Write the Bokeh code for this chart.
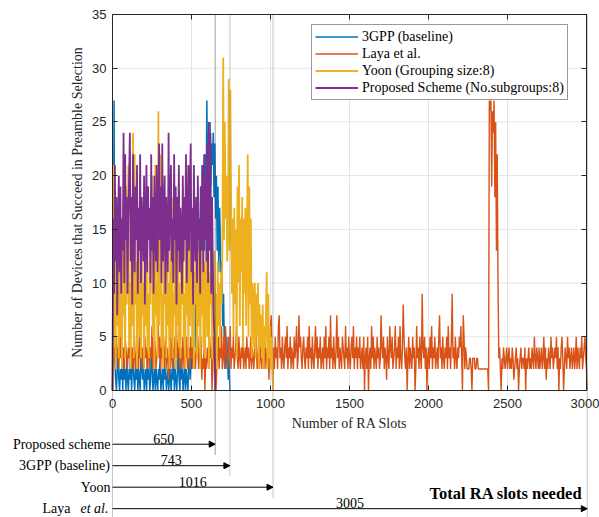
import numpy as np
from math import pi
from bokeh.plotting import figure
from bokeh.models import (Range1d, LinearAxis, FixedTicker, ColumnDataSource, Legend,
                          LegendItem, Label, Arrow, NormalHead)
from bokeh.core.properties import value
from bokeh.embed import file_html
from bokeh.resources import INLINE

# ---------------- data ----------------
series_names = ["3GPP (baseline)", "Laya et al.", "Yoon (Grouping size:8)",
                "Proposed Scheme (No.subgroups:8)"]
series_colors = ["#0072BD", "#D95319", "#EDB120", "#7E2F8E"]
series_last_slot = [743, 3005, 1016, 650]

gpp_vals = [
    0, 5, 27, 3, 1, 0, 2, 4, 1, 0,
    2, 1, 3, 0, 4, 1, 2, 0, 3, 1,
    0, 2, 1, 4, 0, 2, 3, 1, 0, 2,
    1, 3, 0, 2, 1, 0, 4, 2, 1, 3,
    0, 1, 2, 0, 3, 1, 2, 0, 1, 4,
    2, 0, 1, 3, 0, 2, 1, 0, 2, 1,
    3, 0, 1, 2, 0, 4, 1, 2, 0, 1,
    2, 0, 3, 1, 0, 2, 1, 3, 0, 2,
    1, 0, 2, 4, 1, 0, 3, 1, 2, 0,
    1, 3, 0, 2, 1, 0, 2, 4, 1, 3,
    2, 5, 3, 7, 4, 9, 6, 12, 8, 15,
    11, 19, 14, 21, 16, 19, 13, 22, 18, 27,
    17, 24, 20, 25, 19, 23, 21, 24, 18, 23,
    16, 20, 13, 19, 11, 17, 14, 10, 12, 6,
    9, 4, 6, 2, 5, 3, 1, 3, 0,
]

laya_vals = [
    0, 4, 6, 3, 2, 5, 3, 4, 2, 6, 3, 5, 2, 4, 3, 2, 5, 4, 3, 2,
    4, 3, 5, 2, 3, 4, 2, 5, 3, 2, 4, 6, 3, 2, 5, 3, 6, 2, 4, 3,
    2, 5, 3, 4, 2, 3, 5, 2, 4, 3, 6, 2, 3, 5, 4, 2, 3, 4, 6, 3,
    5, 2, 4, 3, 6, 2, 3, 5, 2, 4, 3, 1, 4, 2, 5, 3, 2, 4, 3, 5,
    2, 6, 3, 4, 5, 2, 3, 4, 2, 5, 3, 2, 4, 3, 5, 2, 4, 3, 2, 5,
    3, 4, 2, 5, 3, 2, 4, 3, 5, 2, 3, 4, 5, 1, 3, 2, 4, 0, 3, 2,
    4, 3, 2, 5, 3, 4, 0, 2, 5, 3, 4, 0, 2, 3, 5, 2, 4, 3, 6, 2,
    3, 5, 2, 6, 4, 3, 2, 5, 3, 6, 2, 4, 3, 5, 2, 3, 4, 6, 3, 2,
    5, 3, 2, 4, 3, 5, 2, 3, 4, 2, 5, 3, 4, 2, 3, 5, 2, 4, 3, 2,
    4, 3, 5, 2, 3, 4, 2, 5, 3, 2, 4, 3, 5, 2, 4, 3, 2, 5, 1, 3,
    6, 7, 3, 0, 4, 2, 5, 3, 4, 2, 6, 7, 3, 4, 2, 5, 3, 2, 4, 5,
    3, 6, 2, 4, 3, 5, 2, 4, 3, 2, 5, 3, 4, 6, 2, 3, 7, 4, 5, 3,
    2, 4, 5, 3, 2, 4, 3, 5, 2, 6, 3, 4, 2, 5, 3, 2, 4, 6, 3, 5,
    2, 4, 3, 5, 2, 3, 4, 2, 5, 3, 6, 2, 4, 3, 5, 2, 7, 3, 4, 2,
    5, 3, 2, 4, 7, 3, 5, 2, 4, 3, 2, 5, 4, 3, 2, 6, 3, 4, 2, 5,
    3, 2, 4, 5, 3, 6, 2, 4, 3, 5, 2, 4, 3, 5, 2, 3, 4, 2, 5, 0,
    3, 4, 2, 5, 0, 3, 4, 2, 6, 3, 5, 2, 4, 3, 2, 5, 3, 4, 2, 3,
    7, 4, 3, 5, 2, 4, 3, 1, 5, 3, 2, 6, 4, 3, 5, 2, 3, 4, 6, 2,
    4, 3, 5, 2, 6, 3, 2, 4, 8, 5, 3, 2, 4, 0, 3, 5, 2, 4, 3, 2,
    5, 3, 4, 0, 2, 6, 3, 4, 2, 5, 3, 2, 9, 4, 3, 5, 2, 4, 0, 3,
    4, 2, 5, 3, 6, 2, 4, 3, 5, 2, 3, 4, 2, 5, 7, 3, 4, 2, 5, 3,
    2, 4, 3, 5, 2, 6, 3, 4, 2, 5, 9, 3, 4, 2, 5, 3, 2, 4, 3, 5,
    4, 6, 3, 0, 7, 5, 2, 4, 3, 2, 2, 2, 3, 3, 2, 0, 3, 3, 3, 2,
    2, 3, 3, 2, 2, 2, 2, 2, 2, 2, 2, 2, 2, 2, 2, 2, 0, 27, 26, 27,
    19, 26, 24, 27, 18, 25, 13, 22, 10, 3, 4, 2, 0, 3, 2, 4, 3, 2, 3, 4,
    2, 3, 4, 2, 3, 2, 4, 3, 1, 2, 3, 4, 2, 3, 0, 2, 3, 4, 2, 3,
    3, 2, 4, 0, 3, 2, 3, 4, 2, 3, 2, 4, 3, 2, 5, 3, 2, 4, 3, 2,
    4, 2, 3, 4, 2, 3, 5, 2, 4, 1, 3, 2, 4, 3, 2, 5, 3, 4, 2, 3,
    4, 3, 5, 2, 4, 0, 3, 2, 4, 5, 3, 0, 2, 4, 3, 2, 5, 3, 4, 2,
    3, 4, 2, 3, 4, 2, 3, 5, 2, 4, 3, 2, 4, 3, 5, 2, 3, 4, 5, 3,
    2, 0,
]

yoon_vals = [
    0, 21, 4, 12, 2, 17, 6, 10, 3, 14,
    5, 9, 2, 16, 7, 11, 3, 19, 8, 13,
    21, 4, 10, 2, 15, 6, 24, 3, 22, 8,
    12, 2, 9, 17, 5, 11, 3, 14, 7, 10,
    2, 13, 6, 18, 4, 9, 3, 12, 8, 16,
    20, 5, 11, 2, 21, 7, 10, 3, 26, 6,
    12, 22, 4, 9, 2, 15, 8, 11, 3, 17,
    6, 10, 2, 13, 5, 18, 3, 9, 7, 14,
    2, 11, 6, 16, 4, 10, 3, 13, 8, 19,
    5, 9, 2, 14, 7, 12, 3, 17, 6, 21,
    10, 4, 15, 2, 11, 8, 18, 3, 13, 6,
    16, 2, 10, 7, 20, 4, 12, 3, 9, 14,
    5, 17, 2, 11, 8, 15, 3, 10, 6, 13,
    3, 9, 2, 12, 6, 10, 4, 11, 8, 13,
    31, 14, 25, 16, 20, 12, 15, 29, 13, 28,
    18, 9, 16, 5, 17, 8, 15, 3, 19, 10,
    21, 6, 16, 11, 18, 4, 16, 9, 17, 6,
    14, 22, 5, 19, 8, 16, 3, 10, 9, 4,
    10, 3, 9, 5, 10, 2, 8, 4, 7, 3,
    8, 2, 6, 4, 7, 11, 2, 9, 3, 6,
    2, 5, 3, 0,
]

prop_vals = [
    0, 16, 9, 21, 12, 18, 7, 15, 20, 11,
    19, 9, 16, 13, 24, 10, 22, 14, 18, 9,
    16, 20, 24, 12, 18, 8, 22, 15, 11, 19,
    14, 21, 9, 17, 13, 22, 10, 18, 15, 12,
    20, 8, 16, 21, 11, 19, 14, 17, 10, 22,
    13, 18, 9, 20, 15, 12, 21, 11, 17, 23,
    14, 19, 10, 23, 12, 16, 20, 9, 18, 14,
    11, 24, 13, 17, 21, 12, 16, 10, 22, 14,
    19, 8, 18, 13, 21, 11, 17, 15, 9, 20,
    12, 18, 14, 22, 10, 16, 21, 13, 19, 23,
    11, 17, 8, 21, 15, 12, 18, 10, 20, 14,
    16, 9, 19, 13, 21, 11, 22, 14, 20, 12,
    23, 10, 25, 13, 24, 9, 18, 12, 7, 5,
    0,
]

x_ticks = [0, 500, 1000, 1500, 2000, 2500, 3000]
y_ticks = [0, 5, 10, 15, 20, 25, 30, 35]

row_labels = ["Proposed scheme", "3GPP (baseline)", "Yoon"]
row_slots = [650, 743, 1016, 3005]
laya_label_main = "Laya"
laya_label_italic = "et al."
total_label = "Total RA slots needed"
x_title = "Number of RA Slots"
y_title = "Number of Devices that Succeed in Preamble Selection"

# ---------------- geometry ----------------
W, H = 599, 517
AX_L, AX_R, AX_T, AX_B = 112, 586, 14, 390
XMAX, YMAX = 3000, 35
sx = (AX_R - AX_L) / XMAX
sy = (AX_B - AX_T) / YMAX


def px2x(px):
    return (px - AX_L) / sx


def px2y(py):
    return (AX_B - py) / sy


x_range = Range1d(px2x(0), px2x(W))
y_range = Range1d(px2y(H), px2y(0))

p = figure(width=W, height=H, x_range=x_range, y_range=y_range,
           output_backend="svg", toolbar_location=None, min_border=0,
           outline_line_color=None, background_fill_color="white",
           border_fill_color="white")
p.grid.visible = False

SANS = "Liberation Sans"
SERIF = "Liberation Serif"
AXC = "#262626"

# grid lines
p.segment(x0=x_ticks[1:-1], y0=[0] * 5, x1=x_ticks[1:-1], y1=[YMAX] * 5,
          line_color="#e4e4e4", line_width=1)
p.segment(x0=[0] * 6, y0=y_ticks[1:-1], x1=[XMAX] * 6, y1=y_ticks[1:-1],
          line_color="#e4e4e4", line_width=1)

# data lines
all_vals = [gpp_vals, laya_vals, yoon_vals, prop_vals]
widths = [1.5, 1.4, 1.8, 1.8]
renderers = []
for vals, col, last, lw in zip(all_vals, series_colors, series_last_slot, widths):
    xs = np.linspace(0, last, len(vals))
    r = p.line(xs, vals, line_color=col, line_width=lw)
    renderers.append(r)

# axes
def style_axis(ax, ticks, show_labels, fixed, bounds):
    ax.ticker = FixedTicker(ticks=ticks)
    ax.fixed_location = fixed
    ax.bounds = bounds
    ax.major_tick_in = 5
    ax.major_tick_out = 0
    ax.minor_tick_in = 0
    ax.minor_tick_out = 0
    ax.axis_line_color = AXC
    ax.major_tick_line_color = AXC
    ax.axis_line_width = 1
    ax.axis_label = None
    ax.major_label_text_font = SANS
    ax.major_label_text_font_size = "13px"
    ax.major_label_text_color = AXC
    if not show_labels:
        ax.major_label_overrides = {t: "" for t in ticks}


xb = p.xaxis[0]
style_axis(xb, x_ticks, True, 0, (0, XMAX))
xb.major_label_standoff = 8
yl = p.yaxis[0]
style_axis(yl, y_ticks, True, 0, (0, YMAX))
yl.major_label_standoff = 6

xt = LinearAxis()
style_axis(xt, x_ticks, False, YMAX, (0, XMAX))
p.add_layout(xt, "above")
yr = LinearAxis()
style_axis(yr, y_ticks, False, XMAX, (0, YMAX))
p.add_layout(yr, "right")

# vertical dotted markers
bottom = px2y(H)
line_x = [0] + row_slots
line_end = [bottom, -6, -8, -10, bottom]
line_col = ["#8c8c8c", "#404040", "#8c8c8c", "#8c8c8c", "#8c8c8c"]
p.segment(x0=line_x, y0=[YMAX] * 5, x1=line_x, y1=line_end,
          line_color=line_col, line_width=1, line_dash="1 1")

# arrows
row_y = [-5, -7, -9, -11]
arr_src = ColumnDataSource(dict(x0=[0] * 4, y0=row_y, x1=row_slots, y1=row_y))
p.add_layout(Arrow(end=NormalHead(size=6, fill_color="black", line_color="black",
                                  line_width=1),
                   x_start="x0", y_start="y0", x_end="x1", y_end="y1",
                   source=arr_src, line_color="black", line_width=1))

# numbers above arrows
p.text(x=[s / 2 for s in row_slots], y=[r + 0.02 for r in row_y],
       text=[str(s) for s in row_slots], text_align="center",
       text_baseline="bottom", text_font=value(SERIF),
       text_font_size="14px", text_color="black")

# row labels
p.text(x=[px2x(110)] * 3, y=row_y[:3], text=row_labels, text_align="right",
       text_baseline="middle", text_font=value(SERIF), text_font_size="14px",
       text_color="black")
p.text(x=[px2x(70)], y=[row_y[3]], text=[laya_label_main], text_align="right",
       text_baseline="middle", text_font=value(SERIF), text_font_size="14px",
       text_color="black")
p.text(x=[px2x(108)], y=[row_y[3]], text=[laya_label_italic], text_align="right",
       text_baseline="middle", text_font=value(SERIF), text_font_size="14px",
       text_font_style="italic", text_color="black")

p.add_layout(Label(x=px2x(582), y=px2y(502), text=total_label, text_align="right",
                   text_baseline="bottom", text_font=SERIF,
                   text_font_size="16.5px", text_font_style="bold",
                   text_color="black"))

# axis titles
p.add_layout(Label(x=1500, y=px2y(423), text=x_title, text_align="center",
                   text_baseline="middle", text_font=SERIF, text_font_size="14px",
                   text_color=AXC))
p.add_layout(Label(x=px2x(77), y=YMAX / 2, text=y_title, text_align="center",
                   text_baseline="middle", angle=pi / 2, text_font=SERIF,
                   text_font_size="14px", text_color=AXC))

# legend
legend = Legend(items=[LegendItem(label=n, renderers=[r])
                       for n, r in zip(series_names, renderers)],
                location=(311, H - 100), orientation="vertical",
                label_text_font=SERIF, label_text_font_size="14px",
                label_text_color="black", glyph_width=43, glyph_height=17,
                label_height=17, label_standoff=4, spacing=0, padding=3,
                margin=0, border_line_color="#333333", border_line_width=1,
                background_fill_color="white", background_fill_alpha=1)
p.add_layout(legend)

open("out.html", "w").write(file_html(p, INLINE))
